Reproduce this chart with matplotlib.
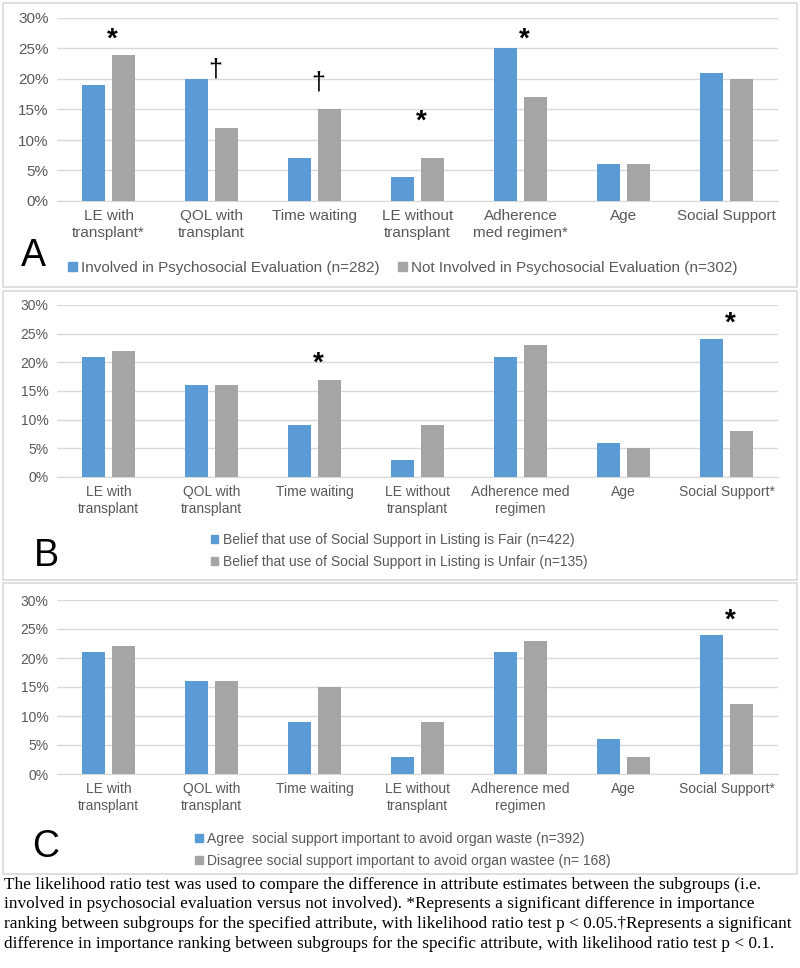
import matplotlib.pyplot as plt
from matplotlib.patches import Rectangle, Patch
import numpy as np

# data (percent)
cats_a = ["LE with\ntransplant*", "QOL with\ntransplant", "Time waiting",
          "LE without\ntransplant", "Adherence\nmed regimen*", "Age", "Social Support"]
cats_bc = ["LE with\ntransplant", "QOL with\ntransplant", "Time waiting",
           "LE without\ntransplant", "Adherence med\nregimen", "Age", "Social Support*"]

involved = [19, 20, 7, 4, 25, 6, 21]
not_involved = [24, 12, 15, 7, 17, 6, 20]

fair = [21, 16, 9, 3, 21, 6, 24]
unfair = [22, 16, 17, 9, 23, 5, 8]

agree = [21, 16, 9, 3, 21, 6, 24]
disagree = [22, 16, 15, 9, 23, 3, 12]

labels_a = ["Involved in Psychosocial Evaluation (n=282)",
            "Not Involved in Psychosocial Evaluation (n=302)"]
labels_b = ["Belief that use of Social Support in Listing is Fair (n=422)",
            "Belief that use of Social Support in Listing is Unfair (n=135)"]
labels_c = ["Agree  social support important to avoid organ waste (n=392)",
            "Disagree social support important to avoid organ wastee (n= 168)"]

# significance marks: (category index, symbol, height in %)
marks_a = [(0, "*", 26.5), (1, "\u2020", 21.5), (2, "\u2020", 19.5), (3, "*", 13), (4, "*", 26.5)]
marks_b = [(2, "*", 19.8), (6, "*", 26.8)]
marks_c = [(6, "*", 26.5)]

caption = [
    "The likelihood ratio test was used to compare the difference in attribute estimates between the subgroups (i.e.",
    "involved in psychosocial evaluation versus not involved). *Represents a significant difference in importance",
    "ranking between subgroups for the specified attribute, with likelihood ratio test p < 0.05.\u2020Represents a significant",
    "difference in importance ranking between subgroups for the specific attribute, with likelihood ratio test p < 0.1.",
]

BLUE = "#5B9BD5"
GRAY = "#A5A5A5"
TXT = "#595959"
GRID = "#D9D9D9"

W, H = 800, 968
fig = plt.figure(figsize=(W / 100, H / 100), dpi=100)
plt.rcParams['font.family'] = ['Liberation Sans', 'DejaVu Sans']


def px(x0, y0, x1, y1):
    return [x0 / W, 1 - y1 / H, (x1 - x0) / W, (y1 - y0) / H]


def panel(box, ax_box, cats, s1, s2, labels, marks, letter, letter_xy,
          leg_xy, ncol, fs):
    fig.patches.append(Rectangle((box[0], box[1]), box[2], box[3], transform=fig.transFigure,
                                 fill=False, edgecolor=GRID, linewidth=1.2))
    ax = fig.add_axes(ax_box)
    x = np.arange(len(cats))
    w = 0.22
    ax.bar(x - 0.145, s1, w, color=BLUE, zorder=3)
    ax.bar(x + 0.145, s2, w, color=GRAY, zorder=3)
    ax.set_xlim(-0.5, len(cats) - 0.5)
    ax.set_ylim(0, 30)
    ax.set_yticks(range(0, 31, 5))
    ax.set_yticklabels([f"{v}%" for v in range(0, 31, 5)])
    ax.set_xticks(x)
    ax.set_xticklabels(cats)
    ax.tick_params(length=0, labelsize=fs, colors=TXT, pad=6)
    ax.yaxis.grid(True, color=GRID, linewidth=1, zorder=0)
    for s in ["top", "right", "left"]:
        ax.spines[s].set_visible(False)
    ax.spines["bottom"].set_color(GRID)
    for i, sym, h in marks:
        ax.text(i + 0.04, h, sym, ha="center", va="center", fontsize=20 if sym == "*" else 18,
                fontweight="bold" if sym == "*" else "normal", color="black")
    fig.text(letter_xy[0] / W, 1 - letter_xy[1] / H, letter, fontsize=27,
             ha="center", va="center", color="black")
    fig.legend([Patch(color=BLUE), Patch(color=GRAY)], labels, loc="center",
               bbox_to_anchor=(leg_xy[0] / W, 1 - leg_xy[1] / H), ncol=ncol,
               frameon=False, fontsize=fs, handlelength=0.55, handleheight=0.55,
               handletextpad=0.3, columnspacing=1.2, labelspacing=0.6,
               labelcolor=TXT)
    return ax


panel(px(3, 3, 797, 287), px(57, 18, 778, 201), cats_a, involved, not_involved,
      labels_a, marks_a, "A", (33, 256), (403, 268), 2, 11)
panel(px(3, 291, 797, 580), px(57, 305, 778, 477), cats_bc, fair, unfair,
      labels_b, marks_b, "B", (46, 556), (399, 551), 1, 10)
panel(px(3, 583, 797, 874), px(57, 600, 778, 774), cats_bc, agree, disagree,
      labels_c, marks_c, "C", (46, 847), (403, 850), 1, 10)

for k, line in enumerate(caption):
    fig.text(4 / W, 1 - (885 + 19.5 * k) / H, line, fontsize=12.4,
             family="Liberation Serif", ha="left", va="center", color="black")

fig.savefig("out.png", dpi=100, facecolor="white")
